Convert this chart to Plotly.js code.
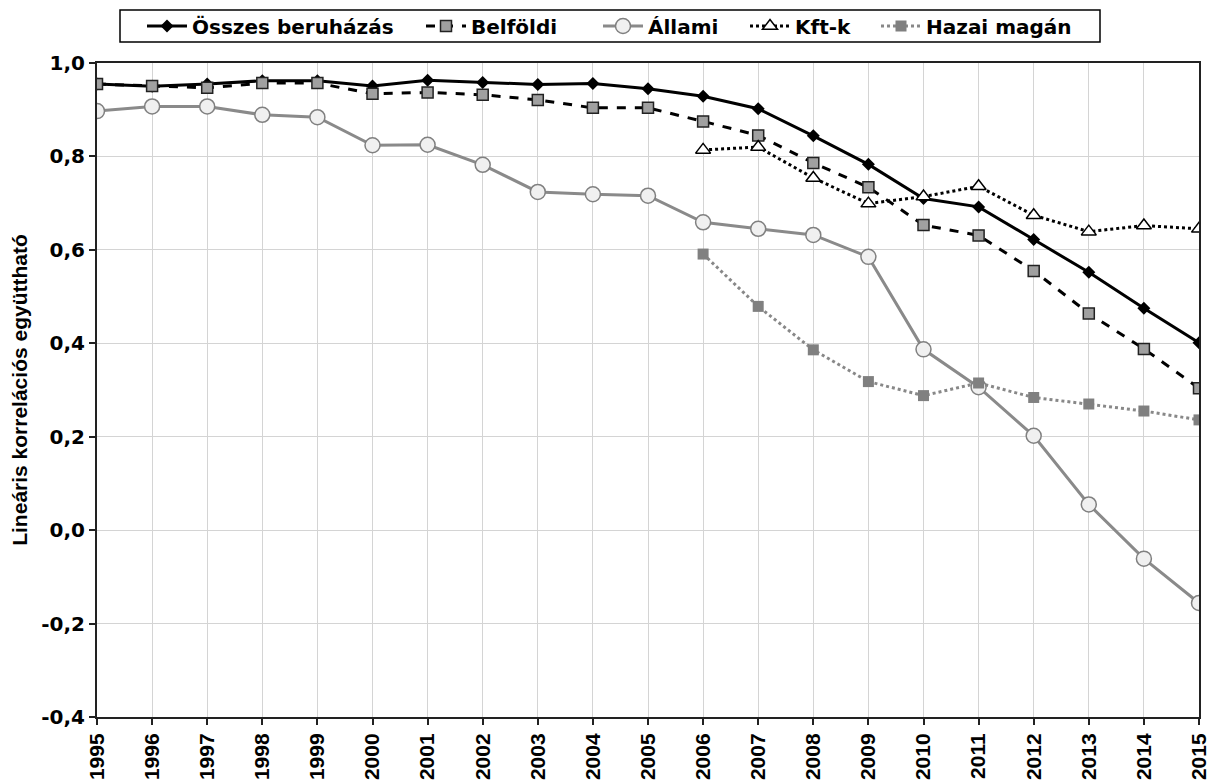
<!DOCTYPE html>
<html><head><meta charset="utf-8">
<script src="https://cdn.plot.ly/plotly-3.0.1.min.js"></script>
<style>html,body{margin:0;padding:0;background:#fff}#chart{width:1209px;height:783px}</style>
</head><body><div id="chart"></div>
<script>
var years = [1995,1996,1997,1998,1999,2000,2001,2002,2003,2004,2005,2006,2007,2008,2009,2010,2011,2012,2013,2014,2015];
var osszes = [0.955,0.950,0.955,0.962,0.962,0.951,0.963,0.958,0.954,0.956,0.945,0.929,0.902,0.844,0.783,0.710,0.692,0.622,0.552,0.475,0.401];
var belfoldi = [0.955,0.951,0.947,0.957,0.957,0.934,0.937,0.932,0.921,0.904,0.904,0.875,0.845,0.786,0.734,0.653,0.631,0.555,0.464,0.388,0.304];
var allami = [0.897,0.907,0.907,0.889,0.884,0.824,0.825,0.782,0.724,0.719,0.716,0.659,0.645,0.632,0.585,0.387,0.306,0.202,0.055,-0.061,-0.156];
var kftYears = [2006,2007,2008,2009,2010,2011,2012,2013,2014,2015];
var kft = [0.814,0.820,0.754,0.699,0.714,0.736,0.674,0.639,0.652,0.645];
var hazaiYears = [2006,2007,2008,2009,2010,2011,2012,2013,2014,2015];
var hazai = [0.591,0.479,0.386,0.318,0.288,0.315,0.284,0.270,0.255,0.236];
var seriesNames = ['Összes beruházás','Belföldi','Állami','Kft-k','Hazai magán'];
var yTickVals = [-0.4,-0.2,0,0.2,0.4,0.6,0.8,1.0];
var yTickText = ['-0,4','-0,2','0,0','0,2','0,4','0,6','0,8','1,0'];
var yTitle = 'Lineáris korrelációs együttható';

var FN = 'Liberation Sans, Arial, sans-serif';
var FW = 'DejaVu Sans, sans-serif';
var W = 1209, H = 783, ML = 97, MR = 10, MT = 63, MB = 66;
var traces = [
 {x:years,y:osszes,name:seriesNames[0],mode:'lines+markers',legend:'legend',
  line:{color:'#000',width:3},marker:{symbol:'diamond',size:10,color:'#000'}},
 {x:years,y:belfoldi,name:seriesNames[1],mode:'lines+markers',legend:'legend2',
  line:{color:'#000',width:3,dash:'dash'},marker:{symbol:'square',size:11,color:'#a0a0a0',line:{color:'#222',width:1.5}}},
 {x:years,y:allami,name:seriesNames[2],mode:'lines+markers',legend:'legend3',
  line:{color:'#8a8a8a',width:3},marker:{symbol:'circle',size:15,color:'#f0f0f0',line:{color:'#808080',width:1.5}}},
 {x:kftYears,y:kft,name:seriesNames[3],mode:'lines+markers',legend:'legend4',
  line:{color:'#000',width:3,dash:'dot'},marker:{symbol:'triangle-up',size:13,color:'#fff',line:{color:'#000',width:1.5}}},
 {x:hazaiYears,y:hazai,name:seriesNames[4],mode:'lines+markers',legend:'legend5',
  line:{color:'#888',width:3,dash:'dot'},marker:{symbol:'square',size:11,color:'#808080'}}
];
function leg(px){
  return {orientation:'h',x:px/W,xref:'container',xanchor:'left',y:1-26/H,yref:'container',yanchor:'middle',
    borderwidth:0,bgcolor:'rgba(0,0,0,0)',font:{family:FW,size:20,color:'#000',weight:'bold'},itemwidth:40};
}
var pw = W-ML-MR, ph = H-MT-MB;
var layout = {
 width:W,height:H,
 margin:{l:ML,r:MR,t:MT,b:MB},
 paper_bgcolor:'#fff',plot_bgcolor:'#fff',
 font:{family:FN,size:17,color:'#000'},
 showlegend:true,
 legend:leg(142),legend2:leg(421),legend3:leg(598),legend4:leg(745),legend5:leg(876),
 shapes:[{type:'rect',xref:'paper',yref:'paper',x0:(120-ML)/pw,x1:(1100-ML)/pw,y0:(H-MB-42)/ph,y1:(H-MB-10)/ph,
   line:{color:'#000',width:1.5},fillcolor:'rgba(0,0,0,0)'}],
 xaxis:{range:[1995,2015],tickmode:'linear',tick0:1995,dtick:1,tickangle:-90,
   showgrid:true,gridcolor:'#d4d4d4',gridwidth:1,
   showline:true,linecolor:'#222',linewidth:2,mirror:true,
   ticks:'outside',ticklen:6,tickwidth:2,tickcolor:'#222',automargin:false,ticklabeloverflow:'allow',
   tickfont:{family:FN,size:21,color:'#000',weight:'bold'},zeroline:false,fixedrange:true},
 yaxis:{range:[-0.4,1.0],tickmode:'array',tickvals:yTickVals,ticktext:yTickText,
   showgrid:true,gridcolor:'#d4d4d4',gridwidth:1,
   showline:true,linecolor:'#222',linewidth:2,mirror:true,automargin:false,
   ticks:'outside',ticklen:6,tickwidth:2,tickcolor:'#222',
   tickfont:{family:FW,size:20,color:'#000',weight:'bold'},zeroline:false,
   title:{text:yTitle,font:{family:FN,size:21,color:'#000',weight:'bold'},standoff:8},fixedrange:true}
};
Plotly.newPlot('chart',traces,layout,{displayModeBar:false,staticPlot:true});
</script></body></html>
